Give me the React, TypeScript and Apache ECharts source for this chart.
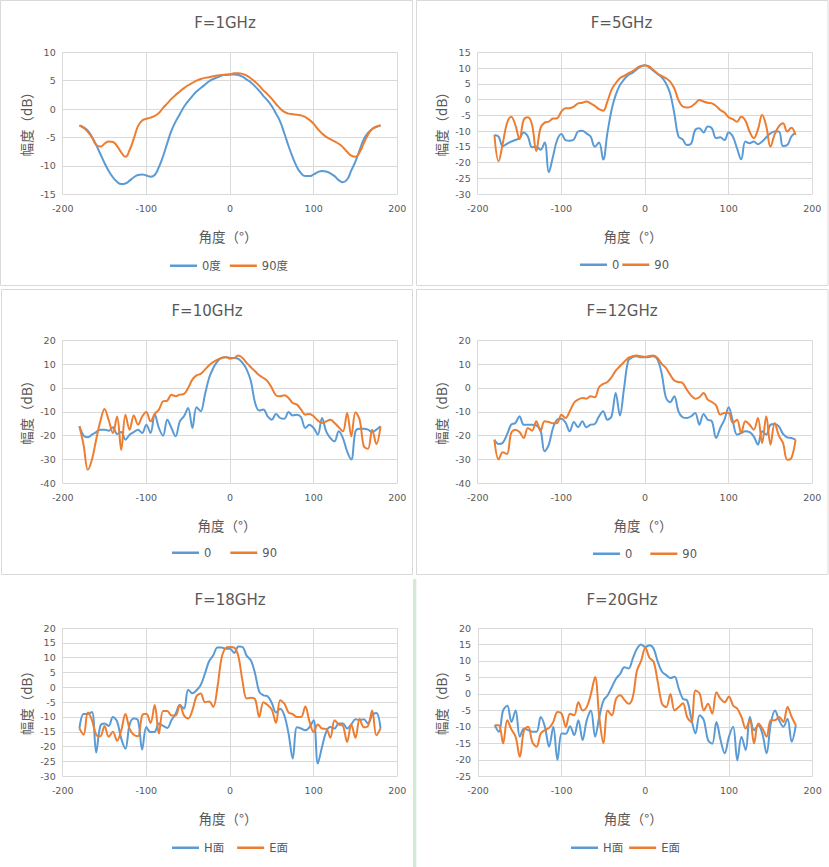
import { useEffect, useRef } from "react";
import * as echarts from "echarts";

// angle samples shared by every curve (degrees)
const angles = [
  -180, -175, -170, -165, -160, -155, -150, -145, -140, -135, -130, -125, -120,
  -115, -110, -105, -100, -95, -90, -85, -80, -75, -70, -65, -60, -55, -50, -45,
  -40, -35, -30, -25, -20, -15, -10, -5, 0, 5, 10, 15, 20, 25, 30, 35, 40, 45,
  50, 55, 60, 65, 70, 75, 80, 85, 90, 95, 100, 105, 110, 115, 120, 125, 130,
  135, 140, 145, 150, 155, 160, 165, 170, 175, 180,
];

// F=1GHz
const f1Deg0 = [
  -2.9, -3.2, -3.8, -4.9, -6.3, -7.9, -9.5, -10.9, -12.0, -12.8, -13.2, -13.1, -12.6,
  -12.0, -11.6, -11.5, -11.7, -11.9, -11.6, -10.2, -8.3, -6.0, -3.8, -2.2, -0.9, 0.4,
  1.4, 2.3, 3.1, 3.7, 4.3, 4.9, 5.3, 5.6, 5.9, 6.1,
  6.1, 6.1, 6.0, 5.7, 5.2, 4.7, 4.0, 3.2, 2.3, 1.5, 0.5, -0.8, -2.2, -4.3, -6.5, -8.5,
  -10.2, -11.3, -11.8, -11.8, -11.5, -11.1, -10.9, -11.0, -11.3, -11.8, -12.5, -12.9,
  -12.4, -10.8, -9.2, -7.2, -5.3, -4.2, -3.5, -3.1, -2.9,
];
const f1Deg90 = [
  -2.9, -3.3, -4.0, -5.0, -6.3, -6.6, -6.1, -5.7, -5.8, -6.5, -7.6, -8.4, -7.2, -5.2,
  -3.0, -2.0, -1.7, -1.5, -1.2, -0.7, 0.2, 1.0, 1.8, 2.5, 3.1, 3.7, 4.2, 4.6, 5.0, 5.3,
  5.5, 5.6, 5.8, 5.9, 6.0, 6.0,
  6.1, 6.3, 6.3, 6.2, 5.9, 5.4, 4.8, 4.1, 3.3, 2.6, 1.8, 0.9, 0.1, -0.5, -0.8, -0.9,
  -1.0, -1.1, -1.4, -1.9, -2.6, -3.5, -4.3, -4.9, -5.3, -5.7, -6.1, -6.7, -7.5, -8.2,
  -8.4, -7.6, -6.0, -4.5, -3.5, -3.1, -2.9,
];

// F=5GHz
const f5Deg0 = [
  -11.2, -11.7, -14.8, -14.0, -13.3, -12.8, -12.2, -10.4, -11.7, -15.1, -14.9, -15.9,
  -13.6, -23.0, -18.0, -12.8, -10.9, -12.8, -13.0, -12.6, -10.1, -9.9, -10.7, -11.7,
  -14.9, -13.6, -19.0, -10.7, -3.3, 1.5, 4.6, 6.4, 7.8, 8.5, 9.6, 10.5,
  10.9, 10.2, 9.2, 8.1, 7.1, 5.2, 2.0, -4.3, -11.7, -12.6, -14.4, -14.0, -9.6, -9.1,
  -10.4, -8.5, -9.1, -12.2, -11.9, -12.8, -10.4, -11.7, -15.4, -18.9, -13.3, -13.8,
  -13.3, -14.1, -13.3, -11.9, -10.7, -10.1, -10.1, -14.7, -14.4, -11.7, -10.4,
];
const f5Deg90 = [
  -11.2, -19.5, -13.8, -7.5, -5.4, -8.0, -12.5, -6.4, -5.6, -8.0, -16.3, -9.1, -7.3,
  -7.0, -6.0, -5.9, -3.8, -2.7, -2.7, -2.2, -1.2, -1.0, -0.6, -1.2, -2.0, -3.0, -3.5,
  -0.6, 3.1, 5.2, 6.8, 7.5, 8.3, 9.0, 9.9, 10.7,
  10.8, 10.5, 9.4, 8.3, 7.5, 6.8, 5.7, 3.6, -0.1, -2.2, -2.5, -2.2, -1.2, -0.1, -0.6,
  -1.0, -1.2, -2.0, -3.3, -4.1, -5.6, -6.2, -7.0, -5.4, -6.6, -10.1, -12.2, -9.5,
  -4.9, -8.5, -14.9, -11.0, -8.5, -7.5, -10.1, -8.9, -11.2,
];

// F=10GHz
const f10Deg0 = [
  -16.1, -20.0, -20.7, -19.6, -18.5, -17.5, -17.5, -17.9, -16.5, -19.3, -18.5, -21.7,
  -19.6, -18.5, -17.5, -18.9, -15.4, -18.9, -11.0, -16.8, -20.0, -13.3, -16.8, -20.3,
  -14.0, -11.9, -8.4, -16.8, -8.1, -9.8, -2.8, 4.2, 8.4, 11.2, 12.6, 12.9,
  12.6, 12.6, 12.2, 10.5, 7.7, 2.8, -6.3, -9.5, -9.0, -11.9, -13.3, -10.9, -12.6,
  -12.9, -10.1, -11.5, -11.2, -12.3, -16.8, -15.4, -16.8, -19.6, -12.6, -18.2, -21.0,
  -22.4, -18.2, -21.0, -26.6, -30.0, -18.2, -17.1, -17.1, -17.5, -18.5, -17.5, -16.1,
];
const f10Deg90 = [
  -16.1, -24.0, -34.3, -30.0, -21.7, -14.0, -8.8, -13.5, -18.9, -12.0, -26.0, -11.2,
  -17.5, -11.5, -15.4, -12.0, -10.1, -14.0, -10.9, -9.1, -5.6, -5.3, -2.8, -3.5, -2.8,
  -2.5, 0.0, 3.5, 5.3, 5.9, 7.7, 9.5, 10.9, 11.9, 12.6, 13.0,
  12.3, 12.6, 13.6, 12.6, 10.5, 8.7, 7.0, 5.3, 4.2, 2.8, 0.0, -3.1, -3.5, -3.1, -4.2,
  -6.3, -7.0, -9.1, -11.2, -10.9, -11.9, -13.7, -14.7, -14.0, -13.3, -14.7, -16.5,
  -18.2, -10.5, -20.3, -10.2, -13.3, -24.5, -25.5, -17.5, -23.5, -16.1,
];

// F=12GHz
const f12Deg0 = [
  -21.7, -23.5, -23.0, -19.6, -15.4, -14.7, -11.9, -15.4, -15.4, -15.4, -15.7, -17.5,
  -26.6, -23.8, -16.8, -13.3, -12.9, -14.5, -18.2, -14.3, -16.5, -14.0, -16.5, -15.4,
  -15.1, -11.9, -9.8, -13.3, -11.9, -2.1, -11.5, 0.0, 11.5, 12.9, 13.3, 12.9,
  12.9, 13.0, 13.3, 11.9, 6.0, -4.0, -6.0, -3.5, -9.8, -12.3, -12.6, -11.9, -10.5,
  -15.4, -10.9, -13.3, -14.0, -21.0, -16.8, -13.3, -8.1, -14.0, -19.6, -18.9, -18.2,
  -18.5, -20.3, -23.8, -18.2, -19.6, -15.4, -15.1, -16.1, -19.3, -20.7, -21.0, -21.7,
];
const f12Deg90 = [
  -21.7, -30.0, -27.0, -27.7, -18.9, -17.5, -18.5, -21.0, -16.8, -17.9, -14.0, -18.0,
  -14.0, -14.3, -14.8, -14.7, -11.2, -12.6, -9.8, -6.3, -4.9, -4.2, -4.5, -3.5, -3.9,
  0.3, 1.7, 2.5, 4.5, 7.3, 9.1, 10.9, 12.6, 13.3, 13.6, 13.3,
  13.0, 13.4, 13.6, 12.6, 10.1, 8.4, 5.6, 3.1, 2.5, 2.1, -0.7, -3.1, -4.5, -3.9, -2.1,
  -4.9, -5.9, -7.3, -11.2, -10.5, -10.5, -14.7, -13.3, -18.9, -14.0, -15.4, -17.5,
  -12.6, -23.1, -11.9, -23.8, -14.7, -20.0, -23.1, -30.1, -29.4, -21.7,
];

// F=18GHz
const f18H = [
  -13.9, -9.0, -9.0, -8.3, -22.0, -13.0, -12.2, -13.0, -10.0, -11.5, -17.3, -20.7,
  -12.5, -10.5, -11.1, -21.0, -13.4, -15.1, -15.0, -12.2, -13.0, -13.7, -11.1, -8.9,
  -6.0, -7.2, -0.8, -2.0, -1.0, 0.8, 4.6, 8.8, 10.8, 13.4, 13.4, 13.0,
  13.0, 11.6, 13.8, 13.6, 10.6, 9.1, 4.6, -1.5, -2.7, -3.0, -5.3, -8.5, -7.2, -9.5,
  -15.6, -24.0, -13.5, -13.9, -14.5, -13.4, -11.1, -25.7, -20.1, -15.0, -13.4, -13.9,
  -12.2, -12.2, -13.9, -12.5, -10.8, -11.0, -10.8, -12.2, -9.4, -8.7, -13.9,
];
const f18E = [
  -13.9, -16.0, -8.5, -11.1, -16.0, -16.5, -13.0, -16.7, -15.0, -18.0, -14.5, -9.0,
  -14.0, -16.0, -16.5, -9.5, -8.9, -12.0, -6.0, -15.6, -8.0, -8.0, -9.5, -9.5, -6.0,
  -9.5, -10.5, -7.8, -3.0, -2.1, -5.0, -4.8, -6.6, 0.1, 10.0, 13.3,
  13.6, 13.4, 10.5, 2.0, -3.8, -3.5, -4.0, -10.0, -5.0, -6.0, -7.5, -12.0, -4.4, -5.5,
  -8.5, -9.0, -10.0, -10.0, -6.5, -11.5, -15.1, -12.5, -13.9, -14.0, -17.0, -11.1,
  -12.5, -13.0, -18.4, -12.5, -17.0, -10.6, -13.5, -13.0, -7.8, -16.2, -13.9,
];

// F=20GHz
const f20H = [
  -9.5, -11.5, -5.0, -3.6, -8.5, -5.0, -13.0, -10.5, -11.0, -11.5, -11.5, -7.0, -10.0,
  -16.0, -10.0, -20.0, -12.0, -12.1, -9.8, -12.5, -8.0, -14.0, -8.0, -5.0, -13.0, -7.0,
  -2.0, -0.4, 2.1, 4.6, 6.1, 8.1, 7.7, 10.7, 13.7, 15.0,
  14.2, 14.8, 13.7, 9.7, 6.7, 5.7, 4.8, 5.2, 1.6, -1.5, -2.0, -7.5, -12.0, -6.5, -8.0,
  -14.0, -15.1, -8.5, -14.0, -18.0, -13.0, -10.0, -20.1, -13.0, -17.0, -7.0, -11.0,
  -9.5, -12.1, -18.0, -9.0, -5.0, -8.0, -10.0, -7.5, -14.5, -9.5,
];
const f20E = [
  -9.5, -9.5, -15.0, -8.0, -10.8, -13.0, -19.1, -11.0, -10.0, -14.6, -16.0, -12.0, -11.0,
  -10.3, -8.5, -5.5, -6.0, -10.0, -6.0, -6.5, -2.5, -5.0, -4.0, 0.0, 5.1, -7.0, -15.0,
  -5.0, -6.5, -1.5, -0.4, -1.8, -3.0, -1.0, 7.0, 10.0,
  14.0, 11.0, 9.7, 3.5, -3.0, -4.0, 0.0, -5.0, -4.0, -2.8, -7.0, -8.5, 1.0, 0.1, -5.0,
  -3.0, -6.0, 0.5, -1.5, -2.5, -0.8, -3.5, -4.5, -7.0, -10.5, -8.0, -15.0, -9.0, -10.5,
  -13.0, -8.0, -8.0, -7.0, -8.5, -4.0, -7.0, -9.5,
];

const BLUE = "#5B9BD5";
const ORANGE = "#ED7D31";
const TEXT = "#595959";
const GRID = "#D9D9D9";
const NUM_FONT = "'DejaVu Sans', sans-serif";
const CJK_FONT = "'Noto Sans CJK SC', sans-serif";
const LEGEND_FONT = "'DejaVu Sans', 'Noto Sans CJK SC', sans-serif";

type Panel = {
  title: string;
  names: string[];
  values: number[][];
  yMin: number;
  yMax: number;
  yStep: number;
  left: number;
  top: number;
  height: number;
  titleX: number;
  titleY: number;
  xNameShift: number;
  legendX: number;
  legendY: number;
  legendGap: number;
  smooth: number | boolean;
};

const panels: Panel[] = [
  { title: "F=1GHz", names: ["0度", "90度"], values: [f1Deg0, f1Deg90], yMin: -15, yMax: 10, yStep: 5,
    left: 62.7, top: 52.3, height: 142, titleX: 225, titleY: 23, xNameShift: -2,
    legendX: 170, legendY: 267, legendGap: 9, smooth: true },
  { title: "F=5GHz", names: ["0", "90"], values: [f5Deg0, f5Deg90], yMin: -30, yMax: 15, yStep: 5,
    left: 477.7, top: 52.3, height: 142, titleX: 621.5, titleY: 23, xNameShift: -12,
    legendX: 580, legendY: 266, legendGap: 3, smooth: 0.4 },
  { title: "F=10GHz", names: ["0", "90"], values: [f10Deg0, f10Deg90], yMin: -40, yMax: 20, yStep: 10,
    left: 62.7, top: 340.3, height: 143, titleX: 207, titleY: 311, xNameShift: -3,
    legendX: 172, legendY: 554, legendGap: 19, smooth: 0.35 },
  { title: "F=12GHz", names: ["0", "90"], values: [f12Deg0, f12Deg90], yMin: -40, yMax: 20, yStep: 10,
    left: 477.7, top: 340.3, height: 143, titleX: 622, titleY: 311, xNameShift: -2,
    legendX: 593, legendY: 555, legendGap: 18, smooth: 0.35 },
  { title: "F=18GHz", names: ["H面", "E面"], values: [f18H, f18E], yMin: -30, yMax: 20, yStep: 5,
    left: 62.7, top: 628, height: 148.3, titleX: 230, titleY: 600, xNameShift: -2,
    legendX: 172, legendY: 849, legendGap: 13, smooth: 0.35 },
  { title: "F=20GHz", names: ["H面", "E面"], values: [f20H, f20E], yMin: -25, yMax: 20, yStep: 5,
    left: 478, top: 628, height: 148.3, titleX: 622, titleY: 600, xNameShift: -12,
    legendX: 571, legendY: 849, legendGap: 6, smooth: 0.35 },
];

function buildOption(): echarts.EChartsCoreOption {
  const grid: any[] = [];
  const xAxis: any[] = [];
  const yAxis: any[] = [];
  const series: any[] = [];
  const legend: any[] = [];
  const graphic: any[] = [
    // chart frames of the upper two rows
    { type: "rect", shape: { x: 0.5, y: 0.5, width: 412, height: 285 }, style: { fill: "none", stroke: GRID, lineWidth: 1 } },
    { type: "rect", shape: { x: 416.5, y: 0.5, width: 411.5, height: 285 }, style: { fill: "none", stroke: GRID, lineWidth: 1 } },
    { type: "rect", shape: { x: 1.5, y: 289.5, width: 411, height: 285 }, style: { fill: "none", stroke: GRID, lineWidth: 1 } },
    { type: "rect", shape: { x: 416.5, y: 289.5, width: 411.5, height: 285 }, style: { fill: "none", stroke: GRID, lineWidth: 1 } },
    // spreadsheet column divider showing between the bottom charts
    { type: "rect", shape: { x: 413, y: 579, width: 3.3, height: 288 }, style: { fill: "#D4EAD4" } },
  ];

  panels.forEach((p, i) => {
    grid.push({ left: p.left, top: p.top, width: 334.6, height: p.height });
    xAxis.push({
      type: "value",
      gridIndex: i,
      min: -200,
      max: 200,
      interval: 100,
      name: "角度（°）",
      nameLocation: "middle",
      nameGap: 35,
      nameTextStyle: {
        fontSize: 13.5,
        color: TEXT,
        fontFamily: CJK_FONT,
        padding: [0, -2 * p.xNameShift, 0, 0],
      },
      axisLine: { show: true, lineStyle: { color: GRID, width: 1 } },
      axisTick: { show: false },
      axisLabel: { color: TEXT, fontSize: 9.5, fontFamily: NUM_FONT, margin: 9 },
      splitLine: { show: true, lineStyle: { color: GRID, width: 1 } },
    });
    yAxis.push({
      type: "value",
      gridIndex: i,
      min: p.yMin,
      max: p.yMax,
      interval: p.yStep,
      name: "幅度（dB）",
      nameLocation: "middle",
      nameRotate: 90,
      nameGap: 30,
      nameTextStyle: { fontSize: 13.5, color: TEXT, fontFamily: CJK_FONT, padding: [0, 0, 0, 5] },
      axisLine: { show: false },
      axisTick: { show: false },
      axisLabel: { color: TEXT, fontSize: 9.5, fontFamily: NUM_FONT, margin: 7 },
      splitLine: { show: true, lineStyle: { color: GRID, width: 1 } },
    });
    p.values.forEach((vals, k) => {
      const color = k === 0 ? BLUE : ORANGE;
      series.push({
        type: "line",
        name: p.names[k],
        xAxisIndex: i,
        yAxisIndex: i,
        data: angles.map((a, j) => [a, vals[j]]),
        smooth: p.smooth,
        showSymbol: false,
        symbol: "none",
        itemStyle: { color },
        lineStyle: { color, width: 2 },
        z: 2 + k,
      });
    });
    legend.push({
      left: p.legendX,
      top: p.legendY - 7,
      padding: 0,
      itemGap: p.legendGap,
      itemWidth: 27,
      itemHeight: 2.5,
      icon: "rect",
      data: p.names,
      selectedMode: false,
      textStyle: { color: TEXT, fontSize: 11.5, fontFamily: LEGEND_FONT },
    });
    graphic.push({
      type: "text",
      x: p.titleX,
      y: p.titleY,
      style: {
        text: p.title,
        align: "center",
        verticalAlign: "middle",
        fontSize: 15,
        fontFamily: NUM_FONT,
        fill: TEXT,
      },
    });
  });

  return {
    backgroundColor: "#ffffff",
    animation: false,
    grid,
    xAxis,
    yAxis,
    series,
    legend,
    graphic,
  };
}

export default function App() {
  const chartRef = useRef<HTMLDivElement>(null);

  useEffect(() => {
    if (!chartRef.current) return;
    const chart = echarts.init(chartRef.current, undefined, { renderer: "svg" });
    chart.setOption(buildOption());
    return () => {
      chart.dispose();
    };
  }, []);

  return (
    <div
      ref={chartRef}
      style={{ position: "absolute", left: 0, top: 0, width: 829, height: 867 }}
    />
  );
}
